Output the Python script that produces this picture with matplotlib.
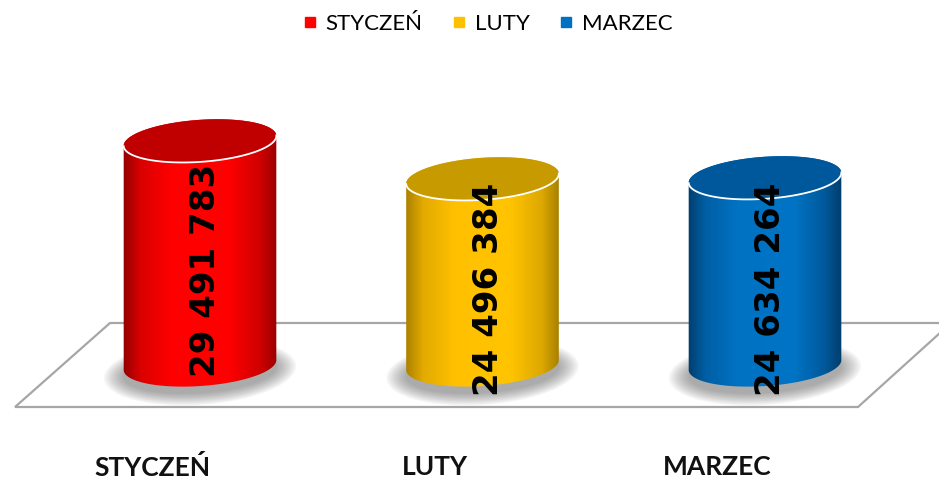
import numpy as np
import matplotlib.pyplot as plt
from matplotlib.colors import LinearSegmentedColormap
from matplotlib.patches import Polygon
from matplotlib.lines import Line2D

months = ['STYCZEŃ', 'LUTY', 'MARZEC']
values = [29491783, 24496384, 24634264]
value_labels = ['29 491 783', '24 496 384', '24 634 264']
colors = ['#FF0000', '#FFC000', '#0070C0']
top_colors = ['#C00000', '#C79B00', '#00589C']
shades = [
    ['#8A0000', '#D80000', '#FF0000', '#FF0000', '#D00000', '#960000'],
    ['#A67C00', '#E2AA00', '#FFC000', '#FFC400', '#DDA800', '#A27C00'],
    ['#003A68', '#005EA4', '#0072C2', '#0074C6', '#00599A', '#003966'],
]

W, H = 939, 480
STEP_PX = 282.5      # pixels between categories
VAL_PX = 7.6e-6      # pixels per unit of value
X0_PX, BASE_PX = 200, 365
A_PX, B_PX = 76.5, 21
TILT = np.radians(4)


def px(dx, dy):
    # pixel offsets (y down) -> data offsets
    return np.asarray(dx) / STEP_PX, -np.asarray(dy) / VAL_PX


def ring(cx, cy, t, a=A_PX, b=B_PX, shift=0):
    u, v = a * np.cos(t), b * np.sin(t)
    dx = u * np.cos(TILT) + v * np.sin(TILT)
    dy = -u * np.sin(TILT) + v * np.cos(TILT) + shift
    ox, oy = px(dx, dy)
    return np.column_stack([cx + ox, cy + oy])


fig = plt.figure(figsize=(W / 100, H / 100), dpi=100)
ax = fig.add_axes([0, 0, 1, 1])
ax.axis('off')
xlim = (-X0_PX / STEP_PX, (W - X0_PX) / STEP_PX)
ylim = (-(H - BASE_PX) / VAL_PX, BASE_PX / VAL_PX)

# floor
fx, fy = px([15 - X0_PX, 858 - X0_PX, 951 - X0_PX, 110 - X0_PX],
            [407 - BASE_PX, 407 - BASE_PX, 323 - BASE_PX, 323 - BASE_PX])
ax.add_patch(Polygon(np.column_stack([fx, fy]), closed=True, facecolor='white',
                     edgecolor='#A6A6A6', lw=1.6, zorder=1))

grad = np.linspace(0, 1, 256).reshape(1, -1)
for i, (v, col, top, sh) in enumerate(zip(values, colors, top_colors, shades)):
    # shadow
    n = 14
    for k in range(n):
        f = 1 - k / (n - 1)
        pts = ring(i, 0, np.linspace(0, 2 * np.pi, 100), a=A_PX + 20 * f,
                   b=B_PX + 12 * f, shift=7)
        ax.add_patch(Polygon(pts, closed=True, facecolor='#555555', edgecolor='none',
                             alpha=0.045, zorder=2))

    body = np.vstack([ring(i, 0, np.linspace(np.pi, 0, 80)),
                      ring(i, v, np.linspace(0, -np.pi, 80))])
    clip = Polygon(body, closed=True, transform=ax.transData)
    cmap = LinearSegmentedColormap.from_list(
        'c%d' % i, list(zip([0, 0.12, 0.32, 0.68, 0.88, 1], sh)))
    x0, _ = px(-A_PX - 2, 0)
    _, y0 = px(0, 40)
    _, y1 = px(0, -40)
    im = ax.imshow(grad, cmap=cmap, aspect='auto', interpolation='bilinear',
                   extent=[i + x0, i - x0, y0, v + y1], zorder=3)
    im.set_clip_path(clip)

    ax.add_patch(Polygon(ring(i, v, np.linspace(0, 2 * np.pi, 120)), closed=True,
                         facecolor=top, edgecolor='none', zorder=4))
    front = ring(i, v, np.linspace(0, np.pi, 80))
    ax.plot(front[:, 0], front[:, 1], color='white', lw=1.3, zorder=4)

    ox, _ = px(6, 0)
    ax.text(i + ox, v / 2 - 2.3e6, value_labels[i], rotation=90, ha='center',
            va='center', fontsize=24.5, fontweight='bold', family='DejaVu Sans',
            color='black', zorder=5)

    lx, ly = px(-48, 467 - BASE_PX)
    ax.text(i + lx, ly, months[i], ha='center', va='center', fontsize=19,
            fontweight='bold', family='Lato', color='#111111', zorder=5)

ax.set_xlim(*xlim)
ax.set_ylim(*ylim)

handles = [Line2D([], [], marker='s', ls='', color=c, markersize=7) for c in colors]
fig.legend(handles, months, loc='center', bbox_to_anchor=(0.519, 1 - 24 / H), ncol=3,
           frameon=False, prop={'family': 'Lato', 'size': 16}, handlelength=0.7,
           handletextpad=0.35, columnspacing=1.3)

fig.savefig('out.png', dpi=100)
